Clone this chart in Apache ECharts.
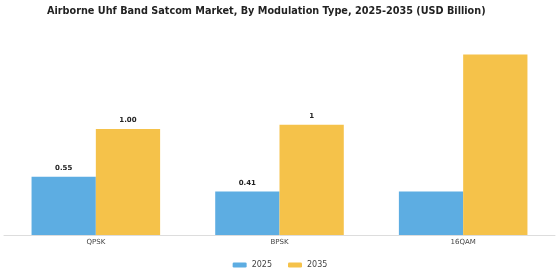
<!DOCTYPE html>
<html>
<head>
<meta charset="utf-8">
<script src="https://cdn.jsdelivr.net/npm/echarts@6/dist/echarts.min.js"></script>
<style>
html,body{margin:0;padding:0;background:#fff;}
#chart{width:560px;height:280px;}
</style>
</head>
<body>
<div id="chart"></div>
<script>
var categories = ['QPSK', 'BPSK', '16QAM'];
var values2025 = [0.55, 0.41, 0.41];
var values2035 = [1.00, 1.04, 1.70];
var labels2025 = ['0.55', '0.41', ''];
var labels2035 = ['1.00', '1', ''];

var chart = echarts.init(document.getElementById('chart'));

var labelStyle = function (texts) {
    return {
        show: true,
        position: 'top',
        distance: 5,
        fontFamily: 'DejaVu Sans',
        fontSize: 7,
        fontWeight: 'bold',
        color: '#222',
        formatter: function (p) { return texts[p.dataIndex]; }
    };
};

var option = {
    animation: false,
    title: {
        text: 'Airborne Uhf Band Satcom Market, By Modulation Type, 2025-2035 (USD Billion)',
        left: 42,
        top: 1,
        textStyle: {
            fontFamily: 'DejaVu Sans',
            fontSize: 9.7,
            fontWeight: 'bold',
            color: '#222'
        }
    },
    legend: {
        bottom: 6,
        left: 'center',
        itemWidth: 14,
        itemHeight: 5,
        itemGap: 16,
        textStyle: { fontFamily: 'DejaVu Sans', fontSize: 8, color: '#444' },
        data: ['2025', '2035']
    },
    grid: { left: 4, right: 5, top: 44, bottom: 45 },
    xAxis: {
        type: 'category',
        data: categories,
        axisLine: { lineStyle: { color: '#ddd' } },
        axisTick: { show: false },
        axisLabel: { fontFamily: 'DejaVu Sans', fontSize: 7, color: '#444', margin: 4 }
    },
    yAxis: {
        type: 'value',
        min: 0,
        max: 1.8,
        show: false,
        splitLine: { show: false }
    },
    series: [
        {
            name: '2025',
            type: 'bar',
            data: values2025,
            barGap: '0%',
            barCategoryGap: '30%',
            itemStyle: { color: '#5DADE2' },
            label: labelStyle(labels2025)
        },
        {
            name: '2035',
            type: 'bar',
            data: values2035,
            itemStyle: { color: '#F5C24A' },
            label: labelStyle(labels2035)
        }
    ]
};
chart.setOption(option);
</script>
</body>
</html>
